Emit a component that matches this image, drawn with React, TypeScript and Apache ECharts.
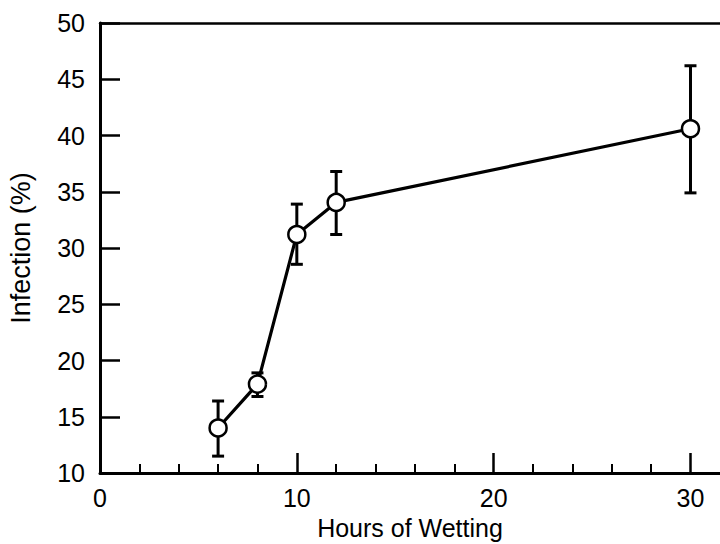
import React, { useEffect, useRef } from "react";
import * as echarts from "echarts";

const hours = [6, 8, 10, 12, 30];
const infection = [14.0, 17.9, 31.2, 34.05, 40.6];
const errLow = [11.5, 16.8, 28.55, 31.2, 34.9];
const errHigh = [16.4, 18.9, 33.9, 36.8, 46.2];
const xMajorTicks = [10, 20, 30];
const xMinorTicks = [2, 4, 6, 8, 12, 14, 16, 18, 22, 24, 26, 28];
const xLabels = [0, 10, 20, 30];

const FONT = "'Liberation Sans', Arial, Helvetica, sans-serif";

export default function App() {
  const ref = useRef<HTMLDivElement>(null);
  useEffect(() => {
    if (!ref.current) return;
    const chart = echarts.init(ref.current, undefined, { renderer: "svg" });
    const xRange = { min: 0, max: 31.5 };
    chart.setOption({
      animation: false,
      backgroundColor: "#ffffff",
      grid: { left: 100, top: 23, right: 0, bottom: 71, containLabel: false, outerBoundsMode: "none" },
      xAxis: [
        {
          type: "value",
          position: "bottom",
          ...xRange,
          axisLine: { show: true, onZero: false, lineStyle: { color: "#000", width: 3 } },
          axisTick: { show: true, inside: true, length: 20, customValues: xMajorTicks, lineStyle: { color: "#000", width: 2.5 } },
          axisLabel: { show: true, customValues: xLabels, margin: 12, fontSize: 25, color: "#000", fontFamily: FONT },
          splitLine: { show: false },
          name: "Hours of Wetting",
          nameLocation: "middle",
          nameGap: 42,
          nameTextStyle: { fontSize: 25, color: "#000", fontFamily: FONT },
        },
        {
          type: "value",
          position: "bottom",
          ...xRange,
          axisLine: { show: false },
          axisTick: { show: true, inside: true, length: 9, customValues: xMinorTicks, lineStyle: { color: "#000", width: 2 } },
          axisLabel: { show: false },
          splitLine: { show: false },
        },
        {
          type: "value",
          position: "top",
          ...xRange,
          axisLine: { show: true, onZero: false, lineStyle: { color: "#000", width: 2.5 } },
          axisTick: { show: false },
          axisLabel: { show: false },
          splitLine: { show: false },
        },
      ],
      yAxis: {
        type: "value",
        min: 10,
        max: 50,
        interval: 5,
        axisLine: { show: true, onZero: false, lineStyle: { color: "#000", width: 3 } },
        axisTick: { show: true, inside: true, length: 20, lineStyle: { color: "#000", width: 2.5 } },
        axisLabel: { margin: 15, fontSize: 25, color: "#000", fontFamily: FONT },
        splitLine: { show: false },
        name: "Infection (%)",
        nameLocation: "middle",
        nameGap: 66,
        nameTextStyle: { fontSize: 27, color: "#000", fontFamily: FONT },
      },
      series: [
        {
          type: "custom",
          xAxisIndex: 0,
          z: 1,
          data: hours.map((h, i) => [h, errLow[i], errHigh[i]]),
          renderItem: (params: any, api: any) => {
            const x = api.value(0);
            const lo = api.coord([x, api.value(1)]);
            const hi = api.coord([x, api.value(2)]);
            const cap = 6;
            const style = { stroke: "#000", lineWidth: 3 };
            return {
              type: "group",
              children: [
                { type: "line", shape: { x1: lo[0], y1: lo[1], x2: hi[0], y2: hi[1] }, style },
                { type: "line", shape: { x1: lo[0] - cap, y1: lo[1], x2: lo[0] + cap, y2: lo[1] }, style },
                { type: "line", shape: { x1: hi[0] - cap, y1: hi[1], x2: hi[0] + cap, y2: hi[1] }, style },
              ],
            };
          },
        },
        {
          type: "line",
          xAxisIndex: 0,
          z: 3,
          data: hours.map((h, i) => [h, infection[i]]),
          symbol: "circle",
          symbolSize: 17,
          showSymbol: true,
          itemStyle: { color: "#fff", borderColor: "#000", borderWidth: 2.5 },
          lineStyle: { color: "#000", width: 3.2 },
        },
      ],
    });
    return () => chart.dispose();
  }, []);
  return (
    <div
      ref={ref}
      style={{ position: "absolute", left: 0, top: 0, width: 720, height: 544 }}
    />
  );
}
